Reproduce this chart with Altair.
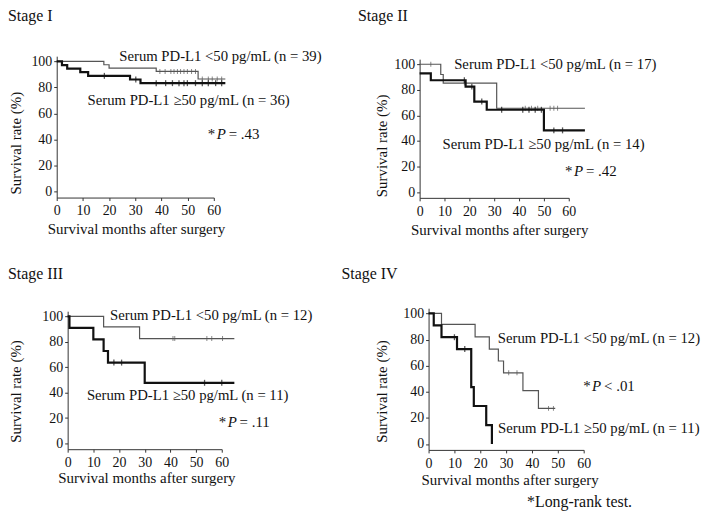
import altair as alt
import pandas as pd

FONT = "Liberation Serif"
INK = "#111111"
GRAY = "#555555"
AXIS = "#333333"

stage_titles = ["Stage I", "Stage II", "Stage III", "Stage IV"]
n_low = [39, 17, 12, 12]
n_high = [36, 14, 11, 11]
p_rest = ["= .43", "= .42", "= .11", "< .01"]
x_ticks = [0, 10, 20, 30, 40, 50, 60]
y_ticks = [0, 20, 40, 60, 80, 100]

# ---- Stage I ----
s1_low_t = [0, 18, 20, 38, 54, 64.4]
s1_low_s = [100, 97.4, 94.9, 92.3, 86.5, 86.5]
s1_low_c = [39.4, 41.4, 43.6, 44.8, 46.1, 47.3, 48.6, 49.9, 51.5, 53, 55.6, 57.9, 59.4, 61.3, 63]
s1_high_t = [0, 2, 4, 9, 12, 28, 32, 64.4]
s1_high_s = [100, 97.2, 94.4, 91.7, 88.9, 86.1, 83.3, 83.3]
s1_high_c = [18.2, 30.2, 38, 41.6, 44.2, 46.7, 48.6, 49.9, 53, 55.6, 57.9, 60.7, 63]

# ---- Stage II ----
s2_low_t = [0, 8.5, 9.5, 31, 66.5]
s2_low_s = [100, 92, 85.3, 65.6, 65.6]
s2_low_c = [4.5, 18, 42.5, 45, 47.5, 52.5, 54, 55.5]
s2_high_t = [0, 4.5, 18.5, 22, 27, 50, 66.5]
s2_high_s = [92.9, 87.5, 82.5, 70.8, 64.4, 48.3, 48.3]
s2_high_c = [18, 21, 25, 33, 41.5, 44, 46.5, 49, 54, 57.5]

# ---- Stage III ----
s3_low_t = [0, 14, 28, 64.9]
s3_low_s = [100, 91.7, 82.5, 82.5]
s3_low_c = [41, 41.7, 54.2, 56.1, 60.3]
s3_high_t = [0, 0.7, 10, 14, 15.7, 30, 64.9]
s3_high_s = [100, 90.9, 81.8, 72.7, 63.6, 47.7, 47.7]
s3_high_c = [18, 21, 53.3, 60]

# ---- Stage IV ----
s4_low_t = [0, 5, 18, 23.5, 27, 29, 36.5, 42.5, 49]
s4_low_s = [100, 91.7, 82, 72.7, 63.6, 54.5, 40.9, 27.3, 27.3]
s4_low_c = [31, 34.2, 46.4, 48.3]
s4_high_t = [0, 2, 5, 11, 16.5, 17.5, 22.3, 24.5]
s4_high_s = [100, 90.9, 81.8, 72.7, 43.6, 29.1, 14.5, 0]
s4_high_c = [10, 14]

footnote = "*Long-rank test."


def level(ts, ss, x):
    v = ss[0]
    for t, s in zip(ts, ss):
        if t <= x:
            v = s
    return v


def panel(k, geo, low, high, ann, title_xy, ytitle_xy, xtitle_xy, extra=None):
    dx, dy, w, h = geo
    xsc = alt.Scale(domain=[0, 60], range=[dx, dx + w], nice=False, zero=False)
    ysc = alt.Scale(domain=[-4.5, 104], range=[dy + h, dy], nice=False, zero=False)
    xax = alt.Axis(values=x_ticks, title="Survival months after surgery", grid=False,
                   tickSize=3, labelPadding=3.5, labelFontSize=14, labelFont=FONT,
                   labelColor=INK, labelFlush=False, labelOverlap=False,
                   domainColor=AXIS, tickColor=AXIS, domainWidth=1, tickWidth=1,
                   titleFont=FONT, titleFontSize=15, titleFontWeight="normal",
                   titleColor=INK, titleX=xtitle_xy[0], titleY=xtitle_xy[1],
                   titleBaseline="middle", titleAlign="center")
    yax = alt.Axis(values=y_ticks, title="Survival rate (%)", grid=False, offset=-dx,
                   tickSize=3, labelPadding=2, labelFontSize=14, labelFont=FONT,
                   labelColor=INK, labelFlush=False, labelOverlap=False,
                   domainColor=AXIS, tickColor=AXIS, domainWidth=1, tickWidth=1,
                   titleFont=FONT, titleFontSize=15, titleFontWeight="normal",
                   titleColor=INK, titleAngle=270, titleX=ytitle_xy[0], titleY=ytitle_xy[1],
                   titleBaseline="middle", titleAlign="center")

    def X():
        return alt.X("t:Q", scale=xsc, axis=xax)

    def Y():
        return alt.Y("s:Q", scale=ysc, axis=yax)

    lt, ls, lc = low
    ht, hs, hc = high
    df_low = pd.DataFrame({"t": lt, "s": ls})
    df_high = pd.DataFrame({"t": ht, "s": hs})
    df_lc = pd.DataFrame({"t": lc, "s": [level(lt, ls, c) for c in lc]})
    df_hc = pd.DataFrame({"t": hc, "s": [level(ht, hs, c) for c in hc]})

    layers = [
        alt.Chart(df_low).mark_line(interpolate="step-after", color=GRAY, strokeWidth=1.2)
        .encode(x=X(), y=Y()),
        alt.Chart(df_lc).mark_tick(orient="vertical", size=5, thickness=1, color=GRAY)
        .encode(x=X(), y=Y()),
        alt.Chart(df_high).mark_line(interpolate="step-after", color=INK, strokeWidth=2.2)
        .encode(x=X(), y=Y()),
        alt.Chart(df_hc).mark_tick(orient="vertical", size=6, thickness=1.3, color=INK)
        .encode(x=X(), y=Y()),
    ]

    (lx, ly), (hx, hy), (px, py) = ann
    df_lab = pd.DataFrame({
        "t": [lx, hx],
        "s": [ly, hy],
        "label": [f"Serum PD-L1 <50 pg/mL (n = {n_low[k]})",
                  f"Serum PD-L1 \u226550 pg/mL (n = {n_high[k]})"],
    })
    layers.append(
        alt.Chart(df_lab).mark_text(align="left", baseline="middle", font=FONT,
                                    fontSize=14.8, color=INK)
        .encode(x=X(), y=Y(), text="label:N"))
    df_p = pd.DataFrame({"t": [px], "s": [py], "a": ["*"], "b": ["P"], "c": [p_rest[k]]})
    layers.append(alt.Chart(df_p).mark_text(align="left", baseline="middle", font=FONT,
                                            fontSize=15, color=INK)
                  .encode(x=X(), y=Y(), text="a:N"))
    layers.append(alt.Chart(df_p).mark_text(align="left", baseline="middle", font=FONT,
                                            fontSize=15, fontStyle="italic", color=INK, dx=9)
                  .encode(x=X(), y=Y(), text="b:N"))
    layers.append(alt.Chart(df_p).mark_text(align="left", baseline="middle", font=FONT,
                                            fontSize=15, color=INK, dx=21)
                  .encode(x=X(), y=Y(), text="c:N"))

    df_title = pd.DataFrame({"label": [stage_titles[k]]})
    layers.append(alt.Chart(df_title).mark_text(align="left", baseline="alphabetic", font=FONT,
                                                fontSize=16, color=INK)
                  .encode(x=alt.value(title_xy[0]), y=alt.value(title_xy[1]), text="label:N"))
    if extra is not None:
        df_ex = pd.DataFrame({"label": [extra[0]]})
        layers.append(alt.Chart(df_ex).mark_text(align="left", baseline="alphabetic", font=FONT,
                                                 fontSize=16, color=INK)
                      .encode(x=alt.value(extra[1]), y=alt.value(extra[2]), text="label:N"))

    return alt.layer(*layers).properties(width=dx + w, height=dy + h)


p1 = panel(0, (0, 0, 158, 142.2),
           (s1_low_t, s1_low_s, s1_low_c), (s1_high_t, s1_high_s, s1_high_c),
           ((23.9, 103.6), (11.8, 69.3), (57.7, 44.1)),
           (-49, -35.5), (-41.5, 87), (79.7, 31.5))
p2 = panel(1, (0, 3, 150, 139.5),
           (s2_low_t, s2_low_s, s2_low_c), (s2_high_t, s2_high_s, s2_high_c),
           ((13.9, 99.5), (9.2, 36.5), (58.5, 16.5)),
           (-62, -35.5), (-38.7, 89.7), (80, 32))
p3 = panel(2, (11, 3, 155, 138.8),
           (s3_low_t, s3_low_s, s3_low_c), (s3_high_t, s3_high_s, s3_high_c),
           ((16.5, 100.5), (7.5, 37.4), (58.8, 16.6)),
           (-49, -29.2), (-52.5, 83.3), (90.2, 28.5))
p4 = panel(3, (9, 0, 156, 142.5),
           (s4_low_t, s4_low_s, s4_low_c), (s4_high_t, s4_high_s, s4_high_c),
           ((26.8, 80.5), (26.9, 11.3), (59.8, 44.6)),
           (-78.7, -29.2), (-47.7, 83.3), (90.5, 29.3),
           extra=(footnote, 108, 199.5))

chart = alt.concat(p1, p2, p3, p4, columns=2, spacing={"row": 110.5, "column": 199},
                   bounds="flush").properties(
    padding={"left": 0, "right": 0, "top": -2, "bottom": 0},
    background="white",
).configure_view(stroke=None)

chart.save("out.html", embed_options={"renderer": "svg", "actions": False})
